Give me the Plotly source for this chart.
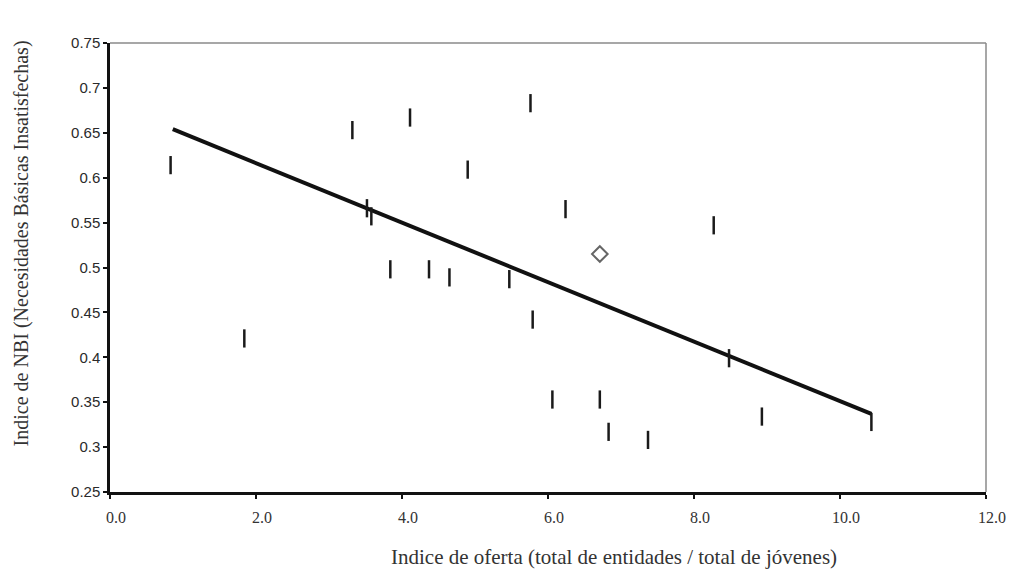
import plotly.graph_objects as go

# Data
oferta = [0.83, 1.84, 3.32, 3.52, 3.58, 3.84, 4.11, 4.37, 4.65, 4.90, 5.47,
          5.76, 5.79, 6.06, 6.24, 6.71, 6.83, 7.37, 8.27, 8.48, 8.93, 10.43]
nbi = [0.614, 0.421, 0.653, 0.566, 0.557, 0.498, 0.667, 0.498, 0.489, 0.609, 0.487,
       0.683, 0.442, 0.353, 0.565, 0.353, 0.317, 0.308, 0.547, 0.399, 0.334, 0.328]

promedio_x = [6.71]
promedio_y = [0.515]

fit_x = [0.86, 10.43]
fit_y = [0.654, 0.337]

x_tickvals = [0, 2, 4, 6, 8, 10, 12]
x_ticktext = ["0.0", "2.0", "4.0", "6.0", "8.0", "10.0", "12.0"]
y_tickvals = [0.25, 0.3, 0.35, 0.4, 0.45, 0.5, 0.55, 0.6, 0.65, 0.7, 0.75]
y_ticktext = ["0.25", "0.3", "0.35", "0.4", "0.45", "0.5", "0.55", "0.6", "0.65", "0.7", "0.75"]

x_title = "Indice de oferta (total de entidades / total de jóvenes)"
y_title = "Indice de NBI (Necesidades Básicas Insatisfechas)"

fig = go.Figure()

fig.add_trace(go.Scatter(
    x=fit_x, y=fit_y, mode="lines",
    line=dict(color="#111111", width=4),
    showlegend=False, hoverinfo="skip"))

fig.add_trace(go.Scatter(
    x=oferta, y=nbi, mode="markers",
    marker=dict(symbol="line-ns", size=13, line=dict(color="#1a1a1a", width=2.5)),
    showlegend=False))

fig.add_trace(go.Scatter(
    x=promedio_x, y=promedio_y, mode="markers",
    marker=dict(symbol="diamond-open", size=12, color="#666666", line=dict(color="#666666", width=2)),
    showlegend=False))

# top and right thin grey borders
fig.add_shape(type="line", xref="paper", yref="paper", x0=0, x1=1, y0=1, y1=1,
              line=dict(color="#8a8a8a", width=1.5))
fig.add_shape(type="line", xref="paper", yref="paper", x0=1, x1=1, y0=0, y1=1,
              line=dict(color="#8a8a8a", width=1.5))

fig.update_xaxes(
    range=[0, 12], tickvals=x_tickvals, ticktext=x_ticktext,
    showgrid=False, zeroline=False,
    showline=True, linecolor="#111111", linewidth=2.5,
    ticks="outside", ticklen=4, tickwidth=1.5, tickcolor="#111111",
    tickfont=dict(family="Liberation Serif", size=16, color="#333333"),
    ticklabelstandoff=5, ticklabelshift=6)

fig.update_yaxes(
    range=[0.25, 0.75], tickvals=y_tickvals, ticktext=y_ticktext,
    showgrid=False, zeroline=False,
    showline=True, linecolor="#111111", linewidth=2.5,
    ticks="outside", ticklen=4, tickwidth=1.5, tickcolor="#111111",
    tickfont=dict(family="Liberation Sans", size=15, color="#2a2a2a"))

fig.add_annotation(text=x_title, xref="paper", yref="paper",
                   x=0.575, y=-0.1448, xanchor="center", yanchor="middle",
                   showarrow=False,
                   font=dict(family="Liberation Serif", size=21, color="#333333"))
fig.add_annotation(text=y_title, xref="paper", yref="paper",
                   x=-0.1, y=0.5546, xanchor="center", yanchor="middle",
                   textangle=-90, showarrow=False,
                   font=dict(family="Liberation Serif", size=20, color="#333333"))

fig.update_layout(
    width=1018, height=575,
    margin=dict(l=110, r=28, t=43, b=83),
    paper_bgcolor="white", plot_bgcolor="white")

fig.write_html("out.html")
